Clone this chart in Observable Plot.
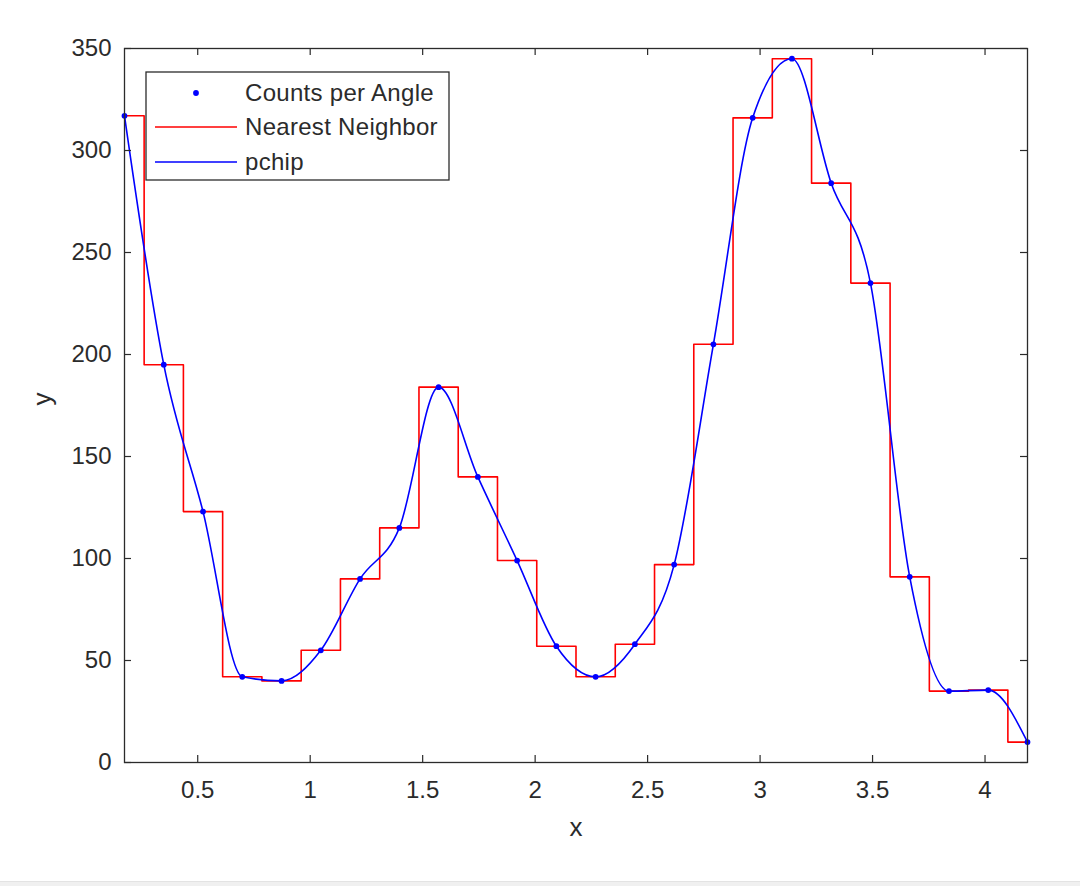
<!DOCTYPE html>
<html>
<head>
<meta charset="utf-8">
<script src="https://cdn.jsdelivr.net/npm/d3@7"></script>
<script src="https://cdn.jsdelivr.net/npm/@observablehq/plot@0.6"></script>
<style>
  html, body { margin: 0; padding: 0; background: #ffffff; }
  #wrap { position: relative; width: 1080px; height: 886px; overflow: hidden; background: #ffffff; }
  #wrap svg { display: block; }
  #legend { position: absolute; left: 0; top: 0; }
  #strip { position: absolute; left: 0; bottom: 0; width: 1080px; height: 4px; background: #f0f0f0; border-top: 1px solid #e3e3e3; }
</style>
</head>
<body>
<div id="wrap"></div>
<script>
// ---- data ----
const angles = [0.1745, 0.3491, 0.5236, 0.6981, 0.8727, 1.0472, 1.2217, 1.3963,
                1.5708, 1.7453, 1.9199, 2.0944, 2.2689, 2.4435, 2.6180, 2.7925,
                2.9671, 3.1416, 3.3161, 3.4907, 3.6652, 3.8397, 4.0143, 4.1888];
const counts = [317, 195, 123, 42, 40, 55, 90, 115,
                184, 140, 99, 57, 42, 58, 97, 205,
                316, 345, 284, 235, 91, 35, 35.5, 10];
const xTicks = [0.5, 1, 1.5, 2, 2.5, 3, 3.5, 4];
const yTicks = [0, 50, 100, 150, 200, 250, 300, 350];
const seriesLabels = ["Counts per Angle", "Nearest Neighbor", "pchip"];
const xLabel = "x";
const yLabel = "y";

const data = angles.map((a, i) => ({x: a, y: counts[i]}));

// ---- layout ----
const W = 1080, H = 886;
const mL = 124, mR = 53, mT = 48, mB = 124;
const frameW = W - mL - mR, frameH = H - mT - mB;
const ink = "#2b2b2b";
const tickLen = 7;

const chart = Plot.plot({
  width: W,
  height: H,
  marginLeft: mL,
  marginRight: mR,
  marginTop: mT,
  marginBottom: mB,
  style: {fontFamily: "'Liberation Sans', Arial, Helvetica, sans-serif", fontSize: "24px", color: ink, background: "#ffffff"},
  x: {domain: [angles[0], angles[angles.length - 1]], ticks: xTicks, tickSize: 0, tickPadding: 18, label: null, tickFormat: d => String(d)},
  y: {domain: [0, 350], ticks: yTicks, tickSize: 0, tickPadding: 13, label: null},
  marks: [
    Plot.line(data, {x: "x", y: "y", curve: "step", stroke: "#ff0000", strokeWidth: 1.6}),
    Plot.line(data, {x: "x", y: "y", curve: "monotone-x", stroke: "#0000ff", strokeWidth: 1.6}),
    Plot.dot(data, {x: "x", y: "y", r: 2.9, fill: "#0000ff", stroke: null}),
    Plot.tickX(xTicks, {x: d => d, stroke: ink, strokeWidth: 1.2, insetTop: frameH - tickLen}),
    Plot.tickX(xTicks, {x: d => d, stroke: ink, strokeWidth: 1.2, insetBottom: frameH - tickLen}),
    Plot.tickY(yTicks, {y: d => d, stroke: ink, strokeWidth: 1.2, insetRight: frameW - tickLen}),
    Plot.tickY(yTicks, {y: d => d, stroke: ink, strokeWidth: 1.2, insetLeft: frameW - tickLen}),
    Plot.frame({stroke: ink, strokeWidth: 1.3}),
    Plot.text([xLabel], {frameAnchor: "bottom", dy: 73, fontSize: 26, fill: ink}),
    Plot.text([yLabel], {frameAnchor: "left", dx: -82, rotate: -90, fontSize: 26, fill: ink})
  ]
});

const wrap = document.getElementById("wrap");
wrap.appendChild(chart);

// ---- legend (inside the axes, top-left) ----
const lx = 146, ly = 72, lw = 303, lh = 108;
const rowY = [21, 55, 90];
const lg = d3.select(wrap).append("svg")
  .attr("id", "legend")
  .attr("width", W).attr("height", 300)
  .style("font-family", "'Liberation Sans', Arial, Helvetica, sans-serif")
  .style("font-size", "24px");
const g = lg.append("g").attr("transform", `translate(${lx},${ly})`);
g.append("rect").attr("x", 0).attr("y", 0).attr("width", lw).attr("height", lh)
  .attr("fill", "#ffffff").attr("stroke", ink).attr("stroke-width", 1.3);
const styles = [{type: "dot", color: "#0000ff"}, {type: "line", color: "#ff0000"}, {type: "line", color: "#0000ff"}];
seriesLabels.forEach((lab, i) => {
  const y = rowY[i];
  if (styles[i].type === "dot") {
    g.append("circle").attr("cx", 50).attr("cy", y).attr("r", 2.9).attr("fill", styles[i].color);
  } else {
    g.append("line").attr("x1", 9).attr("x2", 91).attr("y1", y).attr("y2", y)
      .attr("stroke", styles[i].color).attr("stroke-width", 1.6);
  }
  g.append("text").attr("x", 99).attr("y", y).attr("dy", "0.35em")
    .attr("fill", ink).style("letter-spacing", "0.3px").text(lab);
});

const strip = document.createElement("div");
strip.id = "strip";
wrap.appendChild(strip);
</script>
</body>
</html>
